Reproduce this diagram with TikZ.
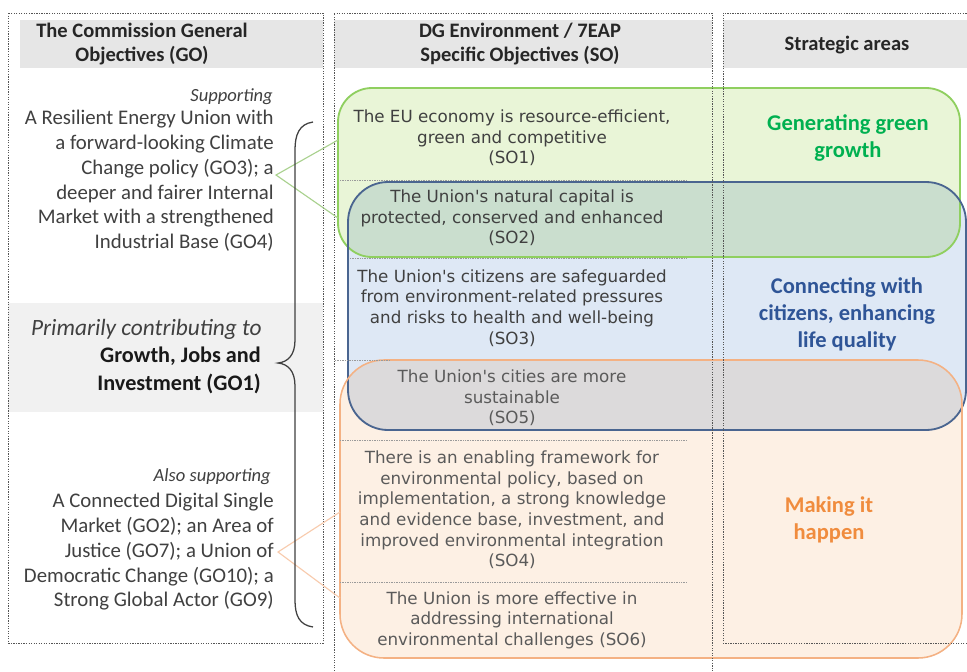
\documentclass[tikz,border=0pt]{standalone}
\usepackage{fontspec}
\setmainfont{Carlito}
\newfontfamily\verdanafont{DejaVu Sans}
\usetikzlibrary{positioning}

\definecolor{hdrgrey}{HTML}{E6E6E6}
\definecolor{bandgrey}{HTML}{F1F1F1}
\definecolor{dotgrey}{HTML}{555555}
\definecolor{sepgrey}{HTML}{9A9A9A}
\definecolor{txtgrey}{HTML}{404040}
\definecolor{sogrey}{HTML}{5A5A5A}
\definecolor{greenfill}{HTML}{E9F5D7}
\definecolor{greenline}{HTML}{8FCF5F}
\definecolor{greentext}{HTML}{00B050}
\definecolor{greenlink}{HTML}{A9D18E}
\definecolor{bluefill}{HTML}{DEE8F5}
\definecolor{blueline}{HTML}{4A6590}
\definecolor{bluetext}{HTML}{2F5597}
\definecolor{orangefill}{HTML}{FDF0E4}
\definecolor{orangeline}{HTML}{F4B183}
\definecolor{orangetext}{HTML}{F08C3E}
\definecolor{orangelink}{HTML}{F8CBAD}

\tikzset{
  dotbox/.style={color=dotgrey, line width=0.6pt, dash pattern=on 0.9pt off 0.9pt},
  sepline/.style={color=sepgrey, line width=0.5pt, dash pattern=on 0.6pt off 0.6pt},
  gotext/.style={text=txtgrey, font=\fontsize{14.8}{17.6}\selectfont, align=right, anchor=east, inner sep=0pt},
  gonote/.style={text=txtgrey, font=\itshape\fontsize{13.2}{15}\selectfont, anchor=east, inner sep=0pt},
  sotext/.style={text=txtgrey, font=\verdanafont\fontsize{11.9}{14.6}\selectfont, align=center, inner sep=0pt},
  hdrtext/.style={text=black!85, font=\bfseries\fontsize{14.6}{17.5}\selectfont, align=center, inner sep=0pt},
  areatext/.style={font=\bfseries\fontsize{16}{19.3}\selectfont, align=center, inner sep=0pt},
}

\begin{document}
\begin{tikzpicture}[x=0.025cm, y=-0.025cm]
\fill[white] (0,0) rectangle (967,671);
\useasboundingbox (0,0) rectangle (967,671);

% header bands
\fill[hdrgrey] (20,20) rectangle (323,68);
\fill[hdrgrey] (334,20) rectangle (712,68);
\fill[hdrgrey] (723,20) rectangle (967,68);
\fill[bandgrey] (8,303) rectangle (323,412);

% strategic areas
\begin{scope}[blend mode=multiply]
\fill[greenfill, rounded corners=0.85cm] (338,88) rectangle (960,257);
\fill[bluefill, rounded corners=1cm] (348,182) rectangle (966,430);
\fill[orangefill, rounded corners=1.1cm] (340,360) rectangle (962,658);
\end{scope}
\draw[greenline, line width=1.3pt, rounded corners=0.85cm] (338,88) rectangle (960,257);
\draw[blueline, line width=1.3pt, rounded corners=1cm] (348,182) rectangle (966,430);
\draw[orangeline, line width=1.1pt, rounded corners=1.1cm] (340,360) rectangle (962,658);

% columns
\draw[dotbox] (8,13) rectangle (323,643);
\draw[dotbox] (334,671) -- (334,13) -- (712,13) -- (712,671);
\draw[dotbox] (967,643) -- (723,643) -- (723,13) -- (967,13);

\draw[sepline] (340,180) -- (686,180);
\draw[sepline] (350,258) -- (686,258);
\draw[sepline] (335,360) -- (390,360);
\draw[sepline] (340,440) -- (686,440);
\draw[sepline] (340,582) -- (686,582);

% headers
\node[hdrtext] (hdrGO) at (142,44) {The Commission General\\Objectives (GO)};
\node[hdrtext] (hdrSO) at (520,44) {DG Environment / 7EAP\\Specific Objectives (SO)};
\node[hdrtext] (hdrSA) at (847,45) {Strategic areas};

% general objectives
\node[gonote] (supp) at (273,97) {Supporting};
\node[gotext] (goA) at (274,181) {A Resilient Energy Union with\\a forward-looking Climate\\Change policy (GO3); a\\deeper and fairer Internal\\Market with a strengthened\\Industrial Base (GO4)};
\node[gotext, font=\itshape\fontsize{16.6}{18}\selectfont] (prim) at (262,329) {Primarily contributing to};
\node[gotext, text=black!90, font=\bfseries\fontsize{15.8}{20}\selectfont] (goone) at (261,370) {Growth, Jobs and\\Investment (GO1)};
\node[gonote] (also) at (271,477) {Also supporting};
\node[gotext] (goB) at (274,552) {A Connected Digital Single\\Market (GO2); an Area of\\Justice (GO7); a Union of\\Democratic Change (GO10); a\\Strong Global Actor (GO9)};

% specific objectives
\node[sotext] (soone) at (512,138) {The EU economy is resource-efficient,\\green and competitive\\(SO1)};
\node[sotext] (sotwo) at (512,218) {The Union's natural capital is\\protected, conserved and enhanced\\(SO2)};
\node[sotext] (sothree) at (512,308) {The Union's citizens are safeguarded\\from environment-related pressures\\and risks to health and well-being\\(SO3)};
\node[sotext, text=sogrey] (sofive) at (512,398) {The Union's cities are more\\sustainable\\(SO5)};
\node[sotext, text=sogrey] (sofour) at (512,510) {There is an enabling framework for\\environmental policy, based on\\implementation, a strong knowledge\\and evidence base, investment, and\\improved environmental integration\\(SO4)};
\node[sotext, text=sogrey] (sosix) at (512,620) {The Union is more effective in\\addressing international\\environmental challenges (SO6)};

% area labels
\node[areatext, text=greentext] (arGreen) at (848,138) {Generating green\\growth};
\node[areatext, text=bluetext] (arBlue) at (847,314) {Connecting with\\citizens, enhancing\\life quality};
\node[areatext, text=orangetext] (arOrange) at (829,520) {Making it\\happen};

% links
\coordinate (tipG) at (276,175);
\coordinate (grTop) at (338,140);
\coordinate (grBot) at (338,218);
\coordinate (tipO) at (278,552);
\coordinate (orTop) at (340,512);
\coordinate (orBot) at (340,598);
\draw[greenlink, line width=0.8pt] (grTop) -- (tipG) -- (grBot);
\draw[orangelink, line width=0.8pt] (orTop) -- (tipO) -- (orBot);

% brace
\draw[txtgrey, line width=0.9pt] (313,122) .. controls (299,124) and (295,135) .. (295,150) -- (295,340)
  .. controls (295,355) and (288,362) .. (278,363) .. controls (288,364) and (295,371) .. (295,386)
  -- (295,600) .. controls (295,615) and (299,625) .. (313,627);
\end{tikzpicture}
\end{document}
